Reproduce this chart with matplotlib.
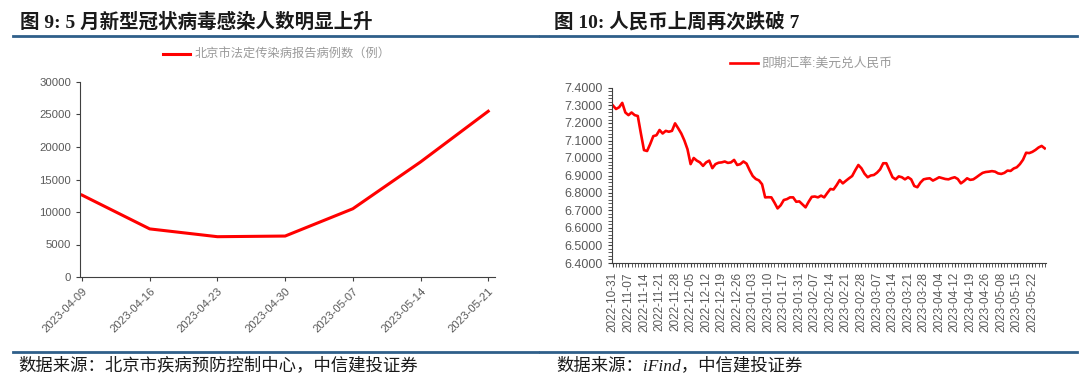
import pandas as pd
import matplotlib
matplotlib.use('Agg')
import matplotlib.pyplot as plt
from matplotlib.lines import Line2D
from matplotlib.ticker import MultipleLocator, FormatStrFormatter

plt.rcParams['font.family'] = ['Liberation Sans', 'Noto Sans CJK SC']
plt.rcParams['axes.unicode_minus'] = False

# ---- data: chart 9 (weekly reported cases, Beijing)
cases_dates = ['2023-04-09', '2023-04-16', '2023-04-23', '2023-04-30',
               '2023-05-07', '2023-05-14', '2023-05-21']
cases = [12600, 7400, 6200, 6300, 10500, 17700, 25500]
cases_label = '北京市法定传染病报告病例数（例）'

# ---- data: chart 10 (USD/CNY spot, trading days from 2022-10-31)
fx_start = '2022-10-31'
fx_holidays = ['2023-01-02', '2023-01-23', '2023-01-24', '2023-01-25', '2023-01-26',
               '2023-01-27', '2023-04-05', '2023-05-01', '2023-05-02', '2023-05-03']
fx = [7.300, 7.280, 7.290, 7.315, 7.260, 7.245, 7.260, 7.245, 7.240, 7.140,
      7.045, 7.040, 7.080, 7.125, 7.130, 7.160, 7.140, 7.155, 7.150, 7.155,
      7.198, 7.170, 7.140, 7.100, 7.050, 6.965, 7.000, 6.985, 6.975, 6.955,
      6.975, 6.985, 6.942, 6.965, 6.973, 6.975, 6.980, 6.972, 6.975, 6.989,
      6.960, 6.965, 6.980, 6.968, 6.930, 6.897, 6.880, 6.872, 6.850, 6.775,
      6.776, 6.775, 6.745, 6.712, 6.730, 6.760, 6.765, 6.775, 6.775, 6.750,
      6.752, 6.735, 6.718, 6.750, 6.778, 6.780, 6.775, 6.785, 6.775, 6.800,
      6.823, 6.820, 6.845, 6.874, 6.855, 6.870, 6.884, 6.897, 6.930, 6.960,
      6.941, 6.910, 6.890, 6.900, 6.903, 6.916, 6.935, 6.970, 6.970, 6.930,
      6.890, 6.878, 6.895, 6.890, 6.878, 6.890, 6.878, 6.840, 6.833, 6.860,
      6.878, 6.882, 6.884, 6.871, 6.880, 6.890, 6.885, 6.880, 6.878, 6.885,
      6.890, 6.880, 6.855, 6.868, 6.884, 6.875, 6.878, 6.890, 6.903, 6.915,
      6.920, 6.922, 6.925, 6.922, 6.912, 6.909, 6.915, 6.928, 6.926, 6.940,
      6.947, 6.965, 6.990, 7.030, 7.028, 7.035, 7.046, 7.060, 7.069, 7.055]
fx_label = '即期汇率:美元兑人民币'

days = pd.bdate_range(fx_start, periods=len(fx) + 20)
days = days[~days.isin(pd.to_datetime(fx_holidays))][:len(fx)]
fx_ticks = [d.strftime('%Y-%m-%d') for d in days]

W, H = 1080, 378
fig = plt.figure(figsize=(W / 100, H / 100), dpi=100)

def box(l, t, r, b):
    return [l / W, 1 - b / H, (r - l) / W, (b - t) / H]

title_font = ['Liberation Serif', 'Noto Sans CJK SC']
blue = '#2f5f8a'
gray = '#595959'

# headers, rules and sources
fig.text(20 / W, 1 - 22 / H, '图 9: 5 月新型冠状病毒感染人数明显上升', family=title_font,
         fontsize=14, fontweight='bold', va='center', color='#1a1a1a')
fig.text(554 / W, 1 - 22 / H, '图 10: 人民币上周再次跌破 7', family=title_font,
         fontsize=14, fontweight='bold', va='center', color='#1a1a1a')
for x0, x1 in [(13, 538), (540, 1077)]:
    fig.add_artist(Line2D([x0 / W, x1 / W], [1 - 36 / H] * 2, color=blue, lw=2))
    fig.add_artist(Line2D([x0 / W, x1 / W], [1 - 352 / H] * 2, color=blue, lw=2))
fig.text(18 / W, 1 - 366 / H, '数据来源：北京市疾病预防控制中心，中信建投证券', family=title_font,
         fontsize=12.5, style='italic', va='center', color='#1a1a1a')
fig.text(556 / W, 1 - 366 / H, '数据来源：iFind，中信建投证券', family=title_font,
         fontsize=12.5, style='italic', va='center', color='#1a1a1a')

# ---- left chart
ax1 = fig.add_axes(box(80, 82, 495, 277))
ax1.plot(range(len(cases)), cases, color='#ff0000', lw=2.2, label=cases_label)
ax1.set_xlim(-0.03, len(cases) - 1 + 0.1)
ax1.set_ylim(0, 30000)
ax1.yaxis.set_major_locator(MultipleLocator(5000))
ax1.set_xticks(range(len(cases)))
ax1.set_xticklabels(cases_dates, rotation=45, ha='right', rotation_mode='anchor')
for s in ['top', 'right']:
    ax1.spines[s].set_visible(False)
for s in ['left', 'bottom']:
    ax1.spines[s].set_color('#404040')
ax1.tick_params(axis='both', colors='#404040', labelcolor=gray, labelsize=8.2, length=3)
ax1.legend(loc='center', bbox_to_anchor=(277 / W, 1 - 55 / H), bbox_transform=fig.transFigure,
           frameon=False, fontsize=8.8, labelcolor='#9a9a9a', handlelength=2.2,
           handletextpad=0.4)

# ---- right chart
ax2 = fig.add_axes(box(612, 88, 1046, 263))
ax2.plot(range(len(fx)), fx, color='#ff0000', lw=1.9, label=fx_label)
ax2.set_xlim(-0.3, len(fx) - 0.6)
ax2.set_ylim(6.4, 7.4)
ax2.yaxis.set_major_locator(MultipleLocator(0.1))
ax2.yaxis.set_minor_locator(MultipleLocator(0.02))
ax2.yaxis.set_major_formatter(FormatStrFormatter('%.4f'))
pos = list(range(0, len(fx), 5))
ax2.set_xticks(pos)
ax2.set_xticklabels([fx_ticks[i] for i in pos], rotation=90)
ax2.set_xticks(range(len(fx)), minor=True)
for s in ['top', 'right']:
    ax2.spines[s].set_visible(False)
for s in ['left', 'bottom']:
    ax2.spines[s].set_color('#404040')
ax2.tick_params(axis='both', which='both', colors='#404040', labelcolor=gray, length=3)
ax2.tick_params(axis='y', labelsize=9)
ax2.tick_params(axis='x', labelsize=8.5)
ax2.legend(loc='center', bbox_to_anchor=(811 / W, 1 - 64 / H), bbox_transform=fig.transFigure,
           frameon=False, fontsize=9.2, labelcolor='#9a9a9a', handlelength=2.2,
           handletextpad=0.3)

fig.savefig('out.png', dpi=100)
